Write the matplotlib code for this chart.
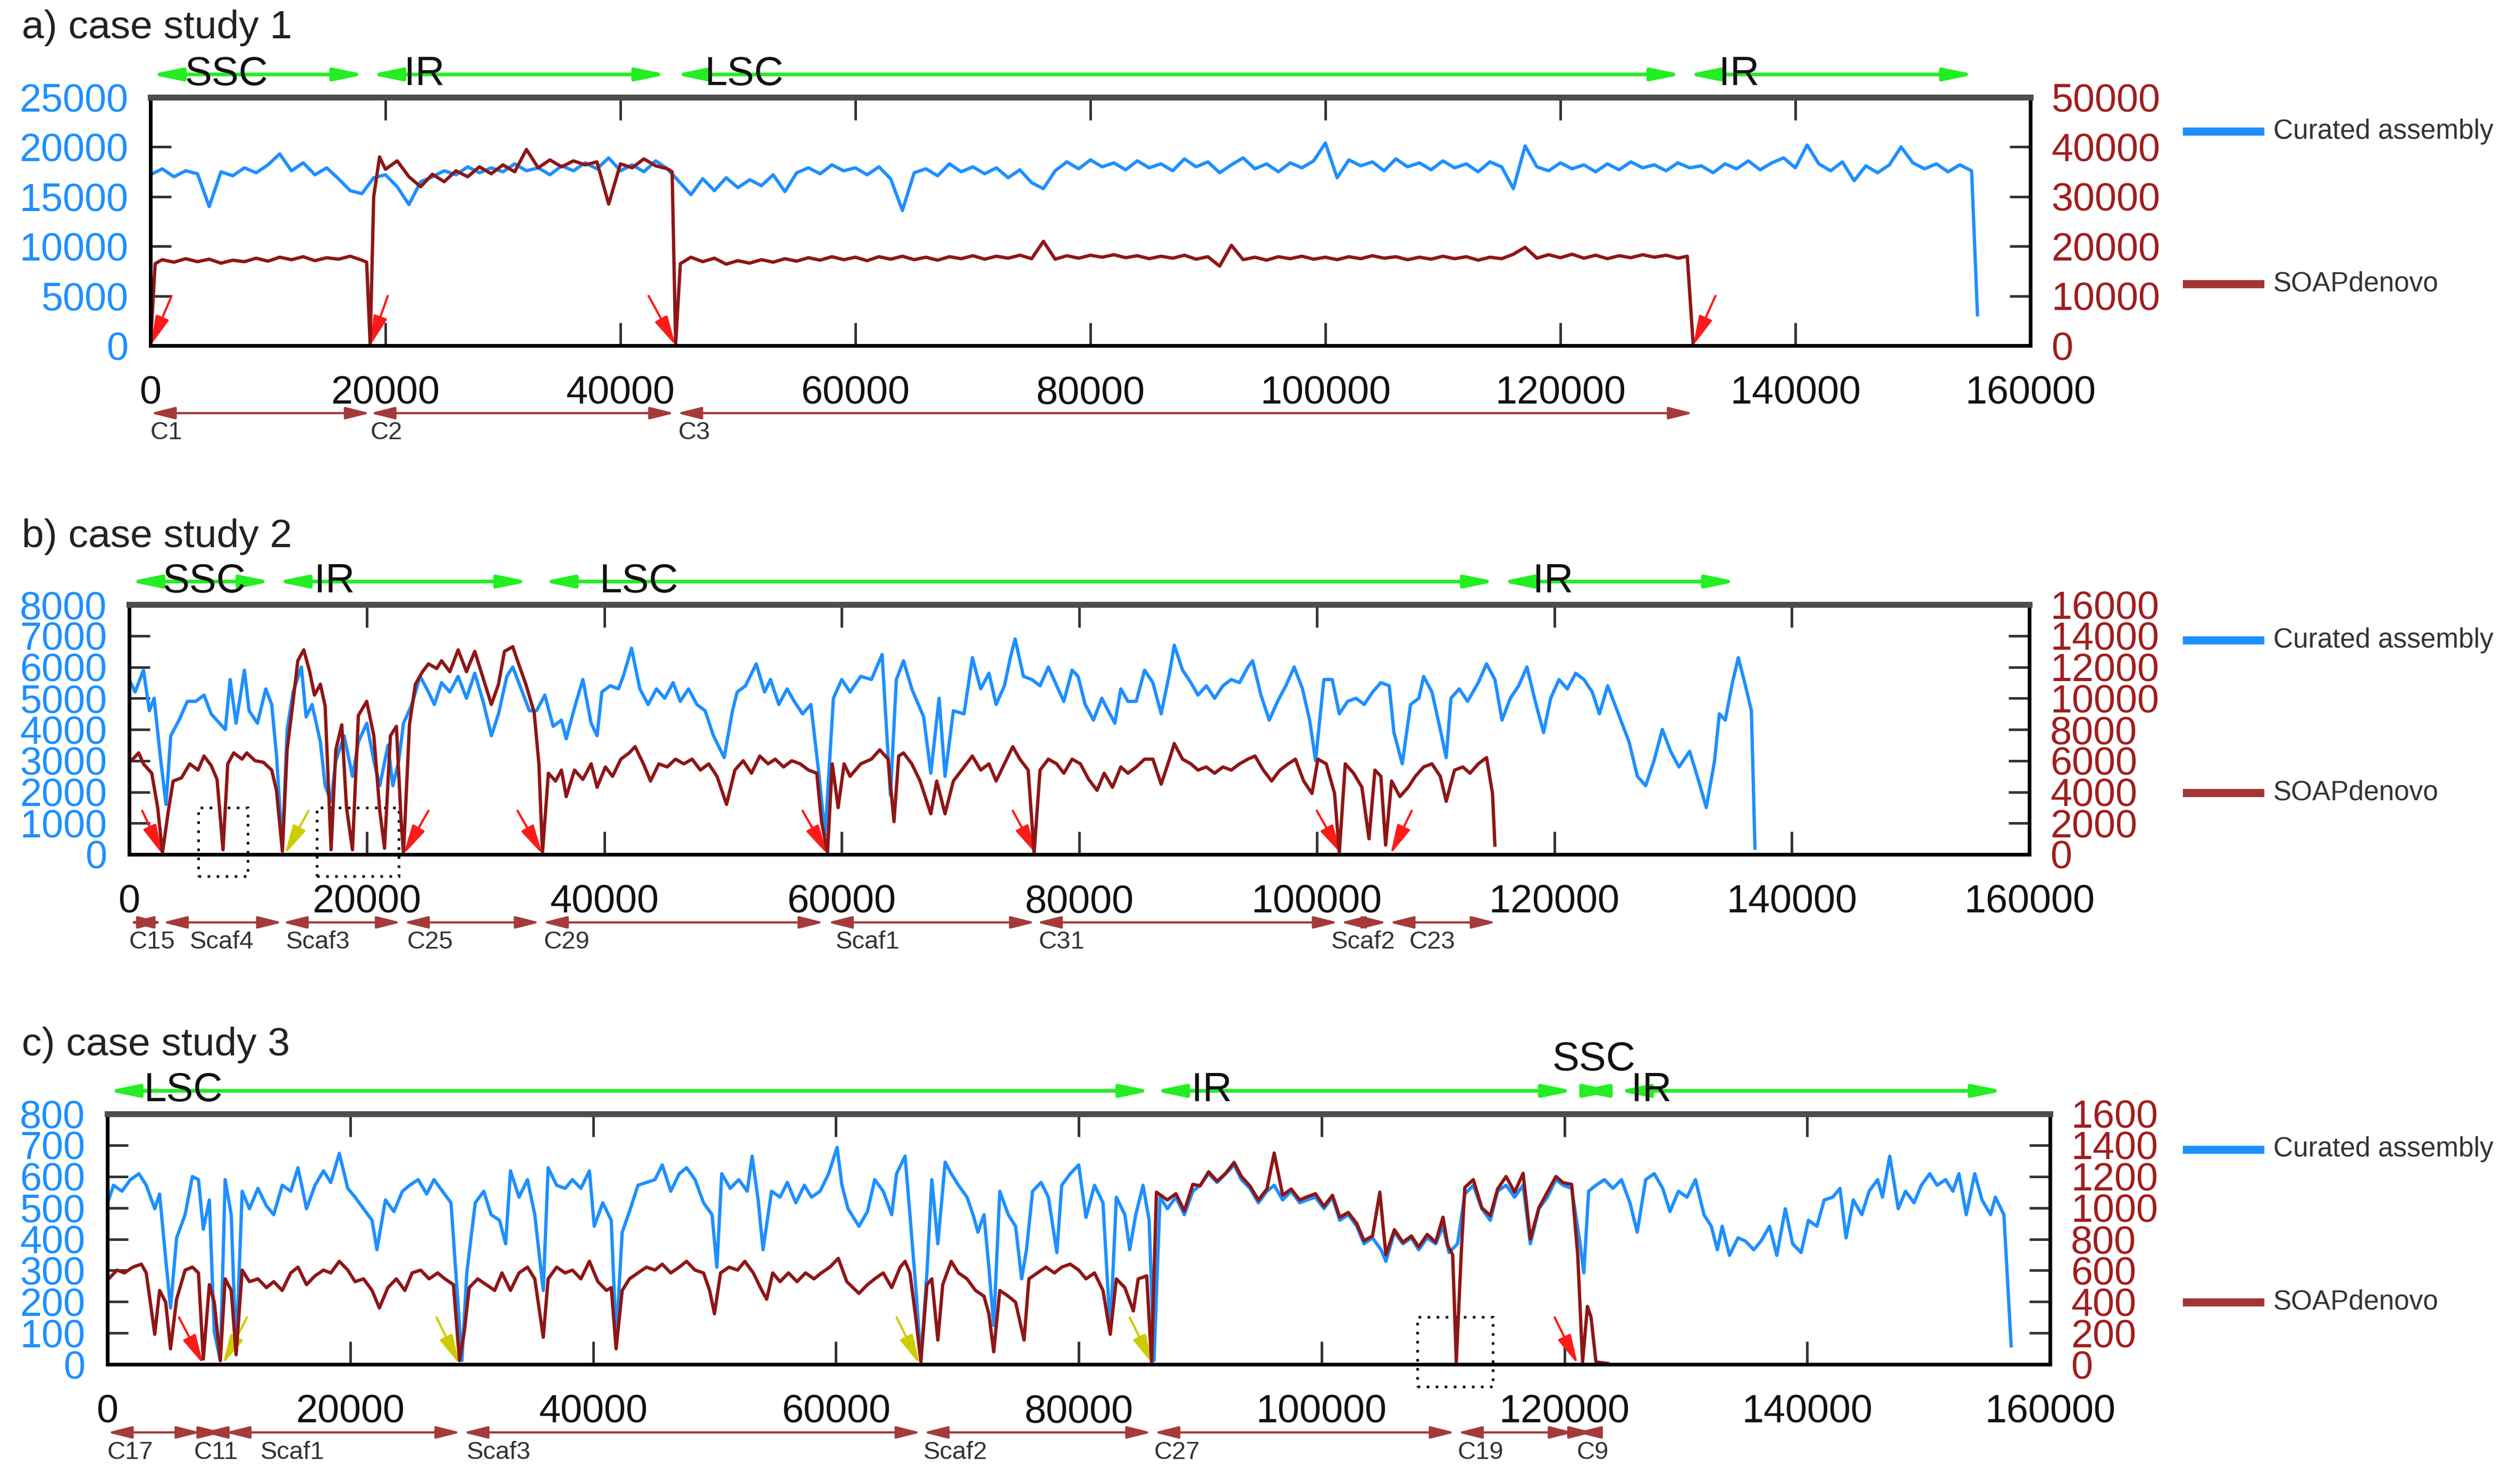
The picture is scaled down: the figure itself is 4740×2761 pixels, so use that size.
import matplotlib
matplotlib.use("Agg")
import matplotlib.pyplot as plt
from matplotlib.patches import FancyArrowPatch, Rectangle
from matplotlib.lines import Line2D
from matplotlib.transforms import blended_transform_factory
import numpy as np

plt.rcParams['font.family'] = ['Liberation Sans', 'DejaVu Sans']

W, H = 4740, 2761
BLUE = '#1e8fff'
RED = '#8e1616'
RED_LABEL = '#a01e1e'
GREEN = '#22ee22'
CONTIG = '#a53a3a'
ARROW_RED = '#ff1a1a'
ARROW_YEL = '#cccc00'

XTICKS = list(range(0, 160001, 20000))

# ---------------- case study 1 ----------------
# curated assembly coverage (thousands), 1 kb bins from 0 to 155 kb
a_curated = [
    17.2, 17.8, 17.0, 17.6, 17.3, 14.0, 17.5, 17.1, 17.9, 17.4,
    18.2, 19.3, 17.6, 18.4, 17.2, 17.9, 16.8, 15.6, 15.3, 16.9,
    17.2, 16.0, 14.2, 16.5, 17.0, 17.6, 17.2, 18.0, 17.4, 17.9,
    17.5, 18.3, 17.6, 17.9, 17.2, 18.1, 17.6, 18.4, 17.8, 18.9,
    17.6, 18.2, 17.5, 18.6, 17.8, 16.5, 15.2, 16.8, 15.6, 16.9,
    15.9, 16.7, 16.1, 17.2, 15.5, 17.4, 17.9, 17.3, 18.2, 17.6,
    17.9, 17.2, 18.0, 16.8, 13.6, 17.4, 17.8, 17.1, 18.3, 17.5,
    18.0, 17.3, 17.9, 16.9, 17.7, 16.4, 15.8, 17.6, 18.5, 17.8,
    18.7, 18.0, 18.4, 17.7, 18.6, 17.9, 18.3, 17.6, 18.8, 18.0,
    18.5, 17.4, 18.2, 18.9, 17.8, 18.3, 17.5, 18.4, 17.9, 18.6,
    20.4, 16.9, 18.7, 18.1, 18.5, 17.6, 18.8, 18.0, 18.4, 17.7,
    18.6, 17.9, 18.3, 17.5, 18.5, 18.0, 15.8, 20.1, 18.0, 17.6,
    18.4, 17.8, 18.2, 17.5, 18.3, 17.7, 18.5, 17.9, 18.2, 17.6,
    18.4, 17.9, 18.1, 17.4, 18.3, 17.8, 18.6, 17.7, 18.4, 18.9,
    17.9, 20.2, 18.3, 17.6, 18.5, 16.6, 18.1, 17.4, 18.2, 20.0,
    18.4, 17.8, 18.3, 17.5, 18.2, 17.6,
]
a_curated_end = (155.5, 3.1)

# SOAPdenovo coverage (kb, thousands on right axis)
a_soap = [
    (0, 0), (0.4, 16.5), (1, 17.3), (2, 16.8), (3, 17.5), (4, 16.9), (5, 17.4),
    (6, 16.6), (7, 17.2), (8, 16.9), (9, 17.6), (10, 17.0), (11, 17.8), (12, 17.3),
    (13, 17.9), (14, 17.1), (15, 17.7), (16, 17.4), (17, 18.0), (18, 17.2),
    (18.4, 16.8), (18.7, 0.3), (19.0, 30.0), (19.5, 38.0), (20, 35.5), (21, 37.2),
    (22, 34.0), (23, 32.0), (24, 34.5), (25, 33.0), (26, 35.2), (27, 34.0),
    (28, 36.0), (29, 34.6), (30, 36.4), (31, 35.0), (32, 39.5), (33, 35.8),
    (34, 37.4), (35, 36.0), (36, 37.2), (37, 36.4), (38, 37.0), (39, 28.5),
    (40, 36.6), (41, 35.8), (42, 37.6), (43, 36.2), (44, 35.6), (44.4, 35.0),
    (44.7, 0.3), (45.1, 16.5), (46, 17.8), (47, 16.9), (48, 17.6), (49, 16.4),
    (50, 17.1), (51, 16.6), (52, 17.3), (53, 16.8), (54, 17.5), (55, 17.0),
    (56, 17.7), (57, 17.2), (58, 17.9), (59, 17.3), (60, 17.8), (61, 17.1),
    (62, 17.9), (63, 17.4), (64, 18.0), (65, 17.3), (66, 17.8), (67, 17.2),
    (68, 17.9), (69, 17.5), (70, 18.1), (71, 17.4), (72, 18.0), (73, 17.6),
    (74, 18.2), (75, 17.5), (76, 21.0), (77, 17.4), (78, 18.1), (79, 17.6),
    (80, 18.2), (81, 17.8), (82, 18.3), (83, 17.7), (84, 18.1), (85, 17.5),
    (86, 18.0), (87, 17.6), (88, 18.2), (89, 17.4), (90, 17.9), (91, 16.0),
    (92, 20.2), (93, 17.3), (94, 17.8), (95, 17.2), (96, 17.9), (97, 17.5),
    (98, 18.0), (99, 17.4), (100, 17.8), (101, 17.3), (102, 17.9), (103, 17.5),
    (104, 18.1), (105, 17.6), (106, 17.9), (107, 17.3), (108, 17.8), (109, 17.4),
    (110, 18.0), (111, 17.5), (112, 17.9), (113, 17.2), (114, 17.8), (115, 17.5),
    (116, 18.4), (117, 19.8), (118, 17.6), (119, 18.3), (120, 17.7), (121, 18.4),
    (122, 17.6), (123, 18.2), (124, 17.5), (125, 18.1), (126, 17.7), (127, 18.3),
    (128, 17.8), (129, 18.2), (130, 17.6), (130.8, 18.0), (131.3, 0.3),
]
a_regions = [('SSC', 0, 18.3, 2.9), ('IR', 18.7, 44.0, 21.6),
             ('LSC', 44.6, 130.4, 47.2), ('IR', 130.8, 155.3, 133.5)]
a_contigs = [('C1', 0, 18.7, 0), ('C2', 18.7, 44.6, 18.7), ('C3', 44.8, 131.3, 44.9)]
a_breaks = [(1.8, 0, 'r'), (20.2, 18.7, 'r'), (42.4, 44.7, 'r'), (133.2, 131.3, 'r')]

# ---------------- case study 2 ----------------
b_curated = [
    (0, 5.6), (0.5, 5.2), (1.2, 5.9), (1.7, 4.6), (2.1, 5.0), (2.6, 3.2), (3.1, 1.6),
    (3.5, 3.8), (4.2, 4.3), (4.9, 4.9), (5.6, 4.9), (6.3, 5.1), (6.9, 4.5), (7.6, 4.2),
    (8.1, 4.0), (8.5, 5.6), (9.0, 4.2), (9.7, 5.9), (10.1, 4.6), (10.8, 4.2), (11.5, 5.3),
    (12.0, 4.8), (12.4, 3.2), (12.9, 0.2), (13.3, 4.0), (13.8, 5.2), (14.5, 6.0),
    (14.9, 4.4), (15.4, 4.8), (16.1, 3.6), (16.5, 2.2), (17.0, 1.7), (17.4, 3.0),
    (18.1, 3.8), (18.8, 2.5), (19.3, 3.6), (20.0, 4.2), (20.6, 3.0), (21.1, 2.2),
    (21.8, 3.5), (22.2, 2.2), (22.7, 3.0), (23.1, 4.2), (23.8, 4.8), (24.5, 5.7),
    (25.2, 5.2), (25.7, 4.8), (26.3, 5.5), (27.0, 5.2), (27.7, 5.7), (28.4, 5.0),
    (29.1, 5.8), (29.8, 4.9), (30.5, 3.8), (31.1, 4.5), (31.8, 5.7), (32.3, 6.0),
    (33.0, 5.3), (33.7, 4.6), (34.3, 4.6), (35.0, 5.1), (35.7, 4.1), (36.4, 4.3),
    (36.8, 3.7), (37.5, 4.7), (38.2, 5.6), (38.9, 4.2), (39.4, 3.8), (39.8, 5.2),
    (40.5, 5.4), (41.2, 5.3), (41.6, 5.7), (42.3, 6.6), (43.0, 5.3), (43.7, 4.8),
    (44.4, 5.3), (45.1, 5.0), (45.8, 5.5), (46.4, 4.9), (47.1, 5.3), (47.8, 4.8),
    (48.5, 4.6), (49.2, 3.8), (50.1, 3.1), (50.8, 4.6), (51.2, 5.2), (51.9, 5.4),
    (52.8, 6.1), (53.5, 5.2), (54.0, 5.6), (54.7, 4.8), (55.4, 5.3), (56.0, 4.9),
    (56.7, 4.5), (57.4, 4.8), (58.1, 2.5), (58.6, 0.6), (59.3, 5.0), (60.0, 5.6),
    (60.7, 5.2), (61.6, 5.7), (62.5, 5.6), (63.4, 6.4), (64.1, 1.9), (64.6, 5.6),
    (65.2, 6.2), (65.9, 5.3), (66.9, 4.4), (67.5, 2.6), (68.2, 5.0), (68.7, 2.5),
    (69.4, 4.6), (70.3, 4.5), (71.0, 6.3), (71.7, 5.3), (72.4, 5.8), (73.0, 4.8),
    (73.7, 5.4), (74.2, 6.3), (74.6, 6.9), (75.3, 5.7), (76.0, 5.6), (76.7, 5.4),
    (77.4, 6.0), (78.1, 5.4), (78.7, 4.9), (79.4, 5.9), (79.9, 5.7), (80.5, 4.8),
    (81.2, 4.3), (81.9, 5.0), (82.3, 4.7), (83.0, 4.2), (83.5, 5.3), (84.1, 4.9),
    (84.8, 4.9), (85.5, 5.9), (86.2, 5.5), (86.9, 4.5), (87.6, 5.8), (88.0, 6.7),
    (88.7, 5.9), (89.4, 5.5), (90.0, 5.1), (90.7, 5.4), (91.4, 5.0), (92.1, 5.4),
    (92.8, 5.6), (93.5, 5.5), (94.2, 6.0), (94.6, 6.2), (95.3, 5.1), (96.0, 4.3),
    (96.7, 4.9), (97.4, 5.4), (98.1, 6.0), (98.8, 5.3), (99.4, 4.3), (99.9, 3.0),
    (100.6, 5.6), (101.3, 5.6), (101.9, 4.5), (102.6, 4.9), (103.3, 5.0), (104.0, 4.8),
    (104.7, 5.2), (105.4, 5.5), (106.1, 5.4), (106.5, 3.9), (107.2, 2.9), (107.9, 4.8),
    (108.6, 5.0), (109.0, 5.7), (109.7, 5.2), (110.4, 4.0), (110.9, 3.1), (111.3, 5.0),
    (112.0, 5.3), (112.7, 4.9), (113.6, 5.5), (114.3, 6.1), (115.0, 5.6), (115.6, 4.3),
    (116.3, 5.0), (117.0, 5.4), (117.7, 6.0), (118.4, 4.9), (119.1, 3.9), (119.7, 5.0),
    (120.4, 5.6), (121.1, 5.3), (121.8, 5.8), (122.5, 5.6), (123.2, 5.2), (123.8, 4.5),
    (124.5, 5.4), (125.2, 4.7), (125.9, 4.0), (126.3, 3.6), (127.0, 2.5), (127.7, 2.2),
    (128.4, 3.0), (129.1, 4.0), (129.8, 3.3), (130.5, 2.8), (131.4, 3.3), (132.2, 2.3),
    (132.8, 1.5), (133.5, 3.0), (133.9, 4.5), (134.4, 4.3), (135.0, 5.5), (135.5, 6.3),
    (136.1, 5.4), (136.6, 4.6), (136.9, 0.2),
]
b_soap = [
    (0.3, 6.1), (0.8, 6.5), (1.2, 5.8), (1.9, 5.2), (2.4, 3.0), (2.8, 0.1), (3.3, 2.8),
    (3.7, 4.7), (4.4, 4.9), (5.1, 5.8), (5.8, 5.4), (6.3, 6.3), (6.9, 5.7), (7.4, 4.8),
    (7.9, 0.3), (8.3, 5.8), (8.8, 6.5), (9.5, 6.1), (9.9, 6.5), (10.6, 6.0), (11.3, 5.9),
    (12.0, 5.4), (12.4, 4.1), (12.9, 0.2), (13.3, 6.7), (13.8, 9.8), (14.2, 12.4),
    (14.7, 13.1), (15.2, 11.7), (15.6, 10.2), (16.1, 10.9), (16.5, 9.5), (17.0, 0.3),
    (17.4, 6.7), (17.9, 8.3), (18.3, 3.0), (18.8, 0.3), (19.3, 8.9), (20.0, 9.8),
    (20.6, 7.6), (21.1, 2.8), (21.5, 0.4), (22.0, 7.6), (22.5, 8.2), (22.9, 2.1),
    (23.1, 0.1), (23.6, 8.3), (24.1, 10.9), (24.7, 11.7), (25.2, 12.2), (25.9, 11.9),
    (26.3, 12.4), (27.0, 11.7), (27.7, 13.1), (28.4, 11.7), (29.1, 13.0), (29.8, 11.3),
    (30.5, 9.6), (31.1, 10.9), (31.6, 13.0), (32.3, 13.3), (32.7, 12.4), (33.4, 10.9),
    (34.1, 9.1), (34.5, 5.8), (34.8, 0.1), (35.3, 5.2), (35.9, 4.7), (36.4, 5.4),
    (36.8, 3.7), (37.5, 5.4), (38.2, 4.8), (38.9, 5.8), (39.4, 4.3), (40.1, 5.6),
    (40.7, 5.0), (41.4, 6.1), (42.1, 6.5), (42.6, 6.9), (43.3, 5.8), (43.9, 4.7),
    (44.6, 5.8), (45.3, 5.6), (46.0, 6.1), (46.7, 5.8), (47.4, 6.1), (48.1, 5.4),
    (48.8, 5.8), (49.5, 5.0), (50.3, 3.2), (51.0, 5.4), (51.7, 6.0), (52.4, 5.2),
    (53.1, 6.3), (53.8, 5.8), (54.4, 6.1), (55.1, 5.6), (55.8, 6.0), (56.5, 5.8),
    (57.2, 5.4), (57.9, 5.2), (58.3, 2.1), (58.8, 0.1), (59.2, 5.8), (59.7, 3.0),
    (60.2, 5.8), (60.7, 5.0), (61.6, 5.8), (62.5, 6.1), (63.2, 6.7), (63.9, 6.1),
    (64.4, 2.1), (64.8, 6.3), (65.2, 6.5), (65.9, 5.8), (66.6, 4.7), (67.5, 2.6),
    (68.0, 4.7), (68.7, 2.6), (69.4, 4.7), (70.3, 5.6), (71.0, 6.3), (71.7, 5.4),
    (72.4, 5.8), (73.0, 4.7), (73.7, 5.8), (74.4, 6.9), (75.0, 6.1), (75.7, 5.4),
    (76.2, 0.1), (76.7, 5.4), (77.4, 6.1), (78.1, 5.8), (78.7, 5.2), (79.4, 6.1),
    (80.1, 5.8), (80.8, 4.8), (81.5, 4.1), (82.1, 5.2), (82.8, 4.3), (83.5, 5.6),
    (84.1, 5.2), (84.8, 5.6), (85.5, 6.1), (86.2, 6.1), (86.9, 4.5), (87.6, 6.1),
    (88.0, 7.1), (88.7, 6.1), (89.4, 5.8), (90.0, 5.4), (90.7, 5.6), (91.4, 5.2),
    (92.1, 5.6), (92.8, 5.4), (93.5, 5.8), (94.2, 6.1), (94.8, 6.3), (95.5, 5.4),
    (96.2, 4.7), (96.9, 5.4), (97.6, 5.8), (98.2, 6.1), (98.9, 4.7), (99.6, 3.9),
    (100.1, 6.1), (100.8, 5.8), (101.5, 3.9), (101.9, 0.1), (102.4, 5.8), (103.1, 5.2),
    (103.8, 4.3), (104.4, 1.0), (104.9, 5.4), (105.4, 5.0), (105.8, 0.6), (106.3, 4.7),
    (107.0, 3.7), (107.7, 4.3), (108.3, 5.0), (109.0, 5.6), (109.7, 5.8), (110.4, 5.0),
    (110.9, 3.4), (111.6, 5.4), (112.3, 5.6), (112.9, 5.2), (113.6, 5.8), (114.3, 6.2),
    (114.8, 3.9), (115.0, 0.6),
]
b_regions = [('SSC', 0, 12.0, 2.8), ('IR', 12.4, 33.7, 15.6),
             ('LSC', 34.8, 115.1, 39.6), ('IR', 115.5, 135.4, 118.2)]
b_contigs = [('C15', 0, 2.8, 0), ('Scaf4', 2.8, 12.9, 5.1), ('Scaf3', 12.9, 22.9, 13.2),
             ('C25', 23.1, 34.6, 23.4), ('C29', 34.8, 58.5, 34.9), ('Scaf1', 58.8, 76.3, 59.5),
             ('C31', 76.4, 101.8, 76.6), ('Scaf2', 102.0, 105.9, 101.2), ('C23', 106.1, 115.1, 107.8)]
b_breaks = [(1.1, 2.8, 'r'), (15.1, 13.1, 'y'), (25.2, 23.1, 'r'), (32.7, 34.8, 'r'),
            (56.7, 58.8, 'r'), (74.4, 76.4, 'r'), (100.0, 102.1, 'r'), (108.0, 106.2, 'r')]
b_boxes = [(5.8, 10.0, -0.7, 1.5), (15.8, 22.7, -0.7, 1.5)]

# ---------------- case study 3 ----------------
c_curated = [
    (0.1, 525), (0.5, 572), (1.2, 553), (1.9, 590), (2.6, 609), (3.2, 572), (3.9, 497),
    (4.3, 544), (4.8, 338), (5.2, 180), (5.7, 404), (6.4, 478), (7.0, 600), (7.5, 590),
    (7.9, 432), (8.4, 525), (8.8, 105), (9.3, 12), (9.7, 590), (10.2, 478), (10.6, 31),
    (11.1, 553), (11.7, 497), (12.4, 562), (13.1, 506), (13.7, 478), (14.4, 572),
    (15.1, 553), (15.7, 628), (16.4, 497), (17.1, 572), (17.8, 618), (18.4, 581),
    (19.1, 674), (19.8, 562), (20.4, 534), (21.1, 497), (21.8, 460), (22.2, 366),
    (22.9, 525), (23.6, 488), (24.3, 553), (24.9, 572), (25.6, 590), (26.3, 544),
    (26.9, 590), (27.6, 553), (28.3, 516), (28.7, 292), (29.2, 12), (29.6, 292),
    (30.3, 516), (31.0, 553), (31.6, 478), (32.3, 460), (32.8, 385), (33.2, 618),
    (33.9, 534), (34.6, 590), (35.2, 478), (35.9, 236), (36.3, 628), (37.0, 572),
    (37.7, 562), (38.3, 590), (39.0, 562), (39.7, 618), (40.1, 441), (40.8, 516),
    (41.5, 460), (41.9, 77), (42.4, 422), (43.0, 488), (43.7, 572), (44.4, 581),
    (45.1, 590), (45.7, 637), (46.4, 553), (47.1, 609), (47.7, 628), (48.4, 590),
    (49.1, 516), (49.8, 478), (50.2, 310), (50.6, 609), (51.3, 562), (52.0, 590),
    (52.7, 553), (53.1, 665), (53.6, 525), (54.0, 366), (54.7, 553), (55.4, 534),
    (56.0, 581), (56.7, 516), (57.4, 572), (58.0, 534), (58.7, 553), (59.4, 609),
    (60.1, 693), (60.5, 572), (61.0, 497), (61.9, 441), (62.6, 488), (63.2, 590),
    (63.9, 553), (64.6, 478), (65.0, 609), (65.7, 665), (66.1, 478), (66.6, 236),
    (67.0, 12), (67.5, 292), (67.9, 590), (68.4, 385), (69.0, 646), (69.5, 609),
    (70.1, 572), (70.8, 534), (71.3, 478), (71.7, 422), (72.2, 478), (72.6, 310),
    (73.0, 124), (73.5, 553), (74.2, 478), (74.8, 441), (75.3, 273), (75.7, 366),
    (76.2, 553), (76.9, 581), (77.5, 534), (78.2, 357), (78.6, 572), (79.3, 609),
    (80.0, 637), (80.6, 469), (81.3, 572), (82.0, 516), (82.6, 105), (83.1, 534),
    (83.8, 478), (84.2, 366), (84.7, 478), (85.3, 572), (85.8, 460), (86.2, 12),
    (86.7, 534), (87.3, 497), (88.0, 534), (88.7, 478), (89.4, 553), (90.0, 572),
    (90.7, 609), (91.4, 581), (92.1, 609), (92.8, 637), (93.4, 590), (94.1, 562),
    (94.8, 516), (95.5, 553), (96.1, 572), (96.8, 525), (97.5, 553), (98.2, 516),
    (98.8, 525), (99.5, 534), (100.2, 497), (100.9, 534), (101.5, 460), (102.2, 478),
    (102.9, 441), (103.5, 385), (104.2, 404), (104.9, 366), (105.3, 329), (106.0, 422),
    (106.7, 385), (107.4, 404), (108.0, 366), (108.7, 404), (109.4, 385), (110.0, 441),
    (110.5, 357), (111.2, 385), (111.8, 544), (112.5, 572), (113.2, 497), (113.9, 460),
    (114.5, 553), (115.2, 572), (115.9, 534), (116.6, 572), (117.2, 385), (117.9, 497),
    (118.6, 534), (119.3, 590), (119.9, 572), (120.6, 562), (121.3, 385), (121.6, 292),
    (122.0, 553), (122.6, 572), (123.3, 590), (124.0, 562), (124.7, 590), (125.4, 516),
    (126.0, 422), (126.7, 590), (127.4, 609), (128.1, 562), (128.7, 488), (129.4, 553),
    (130.1, 534), (130.8, 590), (131.5, 478), (132.1, 441), (132.6, 366), (133.0, 441),
    (133.6, 348), (134.3, 404), (134.9, 394), (135.6, 366), (136.2, 394), (136.9, 441),
    (137.5, 348), (138.2, 497), (138.8, 385), (139.5, 357), (140.1, 460), (140.8, 441),
    (141.4, 525), (142.1, 534), (142.7, 562), (143.2, 404), (143.8, 525), (144.5, 478),
    (145.1, 553), (145.8, 590), (146.2, 534), (146.8, 665), (147.5, 497), (148.1, 553),
    (148.8, 516), (149.4, 572), (150.1, 609), (150.7, 572), (151.4, 590), (152.0, 553),
    (152.5, 609), (153.1, 478), (153.8, 609), (154.4, 525), (155.1, 478), (155.5, 534),
    (156.2, 478), (156.8, 59),
]
c_soap = [
    (0.1, 546), (0.8, 602), (1.4, 584), (2.1, 621), (2.8, 640), (3.2, 584), (3.9, 192),
    (4.3, 472), (4.8, 397), (5.2, 99), (5.7, 416), (6.4, 602), (7.0, 621), (7.5, 584),
    (7.9, 34), (8.4, 509), (8.8, 397), (9.3, 24), (9.7, 546), (10.2, 472), (10.6, 62),
    (11.1, 602), (11.7, 528), (12.4, 546), (13.1, 490), (13.7, 528), (14.4, 472),
    (15.1, 584), (15.7, 621), (16.4, 509), (17.1, 565), (17.8, 602), (18.4, 584),
    (19.1, 658), (19.8, 602), (20.4, 528), (21.1, 546), (21.8, 472), (22.4, 360),
    (23.1, 490), (23.8, 546), (24.5, 472), (25.1, 584), (25.8, 602), (26.5, 546),
    (27.2, 584), (27.8, 546), (28.5, 509), (29.0, 24), (29.4, 211), (29.8, 490),
    (30.5, 546), (31.2, 509), (31.9, 472), (32.5, 584), (33.2, 472), (33.9, 584),
    (34.6, 621), (35.2, 546), (35.9, 173), (36.3, 546), (37.0, 621), (37.7, 584),
    (38.3, 602), (39.0, 546), (39.7, 658), (40.4, 528), (41.1, 472), (41.5, 490),
    (41.9, 99), (42.4, 472), (43.0, 546), (43.7, 584), (44.4, 621), (45.1, 602),
    (45.7, 640), (46.4, 584), (47.1, 621), (47.7, 658), (48.4, 602), (49.1, 584),
    (49.6, 472), (50.0, 323), (50.5, 584), (51.2, 621), (51.9, 602), (52.5, 658),
    (53.2, 584), (53.9, 472), (54.3, 416), (54.8, 584), (55.4, 528), (56.1, 584),
    (56.8, 528), (57.5, 584), (58.2, 546), (58.8, 584), (59.5, 621), (60.2, 677),
    (60.9, 528), (61.9, 453), (62.6, 509), (63.2, 546), (63.9, 584), (64.6, 490),
    (65.3, 621), (65.7, 658), (66.1, 584), (66.6, 285), (67.0, 15), (67.5, 509),
    (67.9, 546), (68.4, 155), (68.8, 509), (69.5, 658), (70.1, 584), (70.8, 546),
    (71.5, 472), (72.2, 435), (72.6, 323), (73.0, 80), (73.5, 472), (74.2, 435),
    (74.8, 397), (75.5, 155), (75.9, 546), (76.6, 584), (77.3, 621), (78.0, 584),
    (78.6, 621), (79.3, 640), (80.0, 602), (80.6, 546), (81.3, 584), (82.0, 472),
    (82.6, 192), (83.1, 546), (83.8, 490), (84.5, 341), (84.9, 546), (85.6, 565),
    (86.0, 15), (86.4, 1100), (87.3, 1050), (88.0, 1090), (88.7, 980), (89.4, 1150),
    (90.0, 1140), (90.7, 1230), (91.4, 1170), (92.1, 1220), (92.8, 1290), (93.4, 1200),
    (94.1, 1140), (94.8, 1050), (95.5, 1120), (96.1, 1350), (96.8, 1080), (97.5, 1120),
    (98.2, 1050), (98.8, 1070), (99.5, 1090), (100.2, 1010), (100.9, 1080), (101.5, 940),
    (102.2, 970), (102.9, 900), (103.5, 790), (104.2, 820), (104.8, 1100), (105.3, 700),
    (106.0, 860), (106.7, 780), (107.4, 820), (108.0, 750), (108.7, 830), (109.4, 780),
    (110.0, 940), (110.4, 760), (110.8, 700), (111.1, 15), (111.5, 700), (111.8, 1130),
    (112.5, 1180), (113.2, 1000), (113.9, 950), (114.5, 1120), (115.2, 1200),
    (115.9, 1100), (116.6, 1220), (117.2, 800), (117.9, 1000), (118.6, 1100),
    (119.3, 1200), (119.9, 1160), (120.6, 1150), (121.1, 700), (121.5, 15), (121.9, 370),
    (122.2, 300), (122.6, 15), (123.6, 5),
]
c_regions = [('LSC', 0, 86.0, 3.0), ('IR', 86.2, 120.8, 89.3),
             ('SSC', 121.0, 124.2, 119.0), ('IR', 124.4, 156.2, 125.5)]
c_contigs = [('C17', 0, 7.7, 0), ('C11', 7.9, 9.5, 7.1), ('Scaf1', 9.7, 29.1, 12.6),
             ('Scaf3', 29.3, 67.0, 29.6), ('Scaf2', 67.2, 86.0, 67.2), ('C27', 86.2, 111.0, 86.2),
             ('C19', 111.2, 120.8, 111.2), ('C9', 121.0, 122.4, 121.0)]
c_breaks = [(5.9, 7.9, 'r'), (11.5, 9.5, 'y'), (27.1, 29.0, 'y'), (65.0, 66.9, 'y'),
            (84.2, 86.1, 'y'), (119.2, 121.1, 'r')]
c_boxes = [(107.9, 114.1, -72, 152)]


def px_rect(l, t, r, b):
    return [l / W, 1 - b / H, (r - l) / W, (b - t) / H]


def draw_panel(fig, rect, title, title_base, left_max, left_step, scale,
               curated_x, curated_y, soap, regions, contigs, breaks, boxes,
               break_top, legend_y, raised_label=None):
    ax = fig.add_axes(rect)
    ax2 = ax.twinx()
    kb = 1000

    ax.plot(np.array(curated_x) * kb, np.array(curated_y) * scale, color=BLUE, lw=4.5,
            solid_joinstyle='round')
    sx, sy = zip(*soap)
    ax2.plot(np.array(sx) * kb, np.array(sy) * scale, color=RED, lw=4.5,
             solid_joinstyle='round')

    ax.set_xlim(0, 160000)
    ax.set_ylim(0, left_max)
    ax2.set_ylim(0, 2 * left_max)
    lt = np.arange(0, left_max + 1, left_step)
    ax.set_yticks(lt)
    ax.set_yticklabels([str(int(v)) for v in lt])
    ax2.set_yticks(2 * lt)
    ax2.set_yticklabels([str(int(v)) for v in 2 * lt])
    ax.set_xticks(XTICKS)
    ax.set_xticklabels([str(v) for v in XTICKS])

    ax.tick_params(axis='x', direction='in', top=True, bottom=True, length=31, width=3.5,
                   color='#333333', pad=40, labelsize=53, labelcolor='#111111')
    ax.tick_params(axis='y', direction='in', left=True, right=False, length=28, width=3.5,
                   color='#333333', pad=30, labelsize=53, labelcolor=BLUE)
    ax2.tick_params(axis='y', direction='in', right=True, length=28, width=3.5,
                    color='#333333', pad=28, labelsize=53, labelcolor=RED_LABEL)
    for s in ax.spines.values():
        s.set_visible(False)
    for name, s in ax2.spines.items():
        s.set_color('#4d4d4d' if name == 'top' else 'black')
        s.set_linewidth(8 if name == 'top' else 5)

    bt = blended_transform_factory(ax.transData, ax.transAxes)

    # genome regions (green)
    for name, x0, x1, xl in regions:
        ax2.add_patch(FancyArrowPatch((x0 * kb, 1.092), (x1 * kb, 1.092), transform=bt,
                                      arrowstyle='<|-|>,head_length=34,head_width=7',
                                      mutation_scale=1, color=GREEN, lw=5,
                                      shrinkA=0, shrinkB=0, clip_on=False))
        yl = 1.05
        if name == raised_label:
            yl = 1.174
        ax2.text(xl * kb, yl, name, transform=bt, fontsize=55, ha='left',
                 va='baseline', color='#111111', clip_on=False)

    # assembled contigs (dark red)
    for name, x0, x1, xl in contigs:
        ax2.add_patch(FancyArrowPatch((x0 * kb, -0.272), (x1 * kb, -0.272), transform=bt,
                                      arrowstyle='<|-|>,head_length=28,head_width=7',
                                      mutation_scale=1, color=CONTIG, lw=3,
                                      shrinkA=0, shrinkB=0, clip_on=False))
        ax2.text(xl * kb, -0.305, name, transform=bt, fontsize=34, ha='left',
                 va='top', color='#333333', clip_on=False)

    # breakpoints
    for x0, x1, c in breaks:
        ax2.add_patch(FancyArrowPatch((x0 * kb, break_top), (x1 * kb, 0),
                                      transform=ax.transData,
                                      arrowstyle='-|>,head_length=34,head_width=8',
                                      mutation_scale=1,
                                      color=ARROW_RED if c == 'r' else ARROW_YEL, lw=3,
                                      shrinkA=0, shrinkB=0, clip_on=False))

    for x0, x1, y0, y1 in boxes:
        ax2.add_patch(Rectangle((x0 * kb, y0 * scale), (x1 - x0) * kb, (y1 - y0) * scale,
                                transform=ax.transData, fill=False, ec='black', lw=3.5,
                                ls=(0, (1, 2.5)), clip_on=False))

    fig.text(41 / W, 1 - title_base / H, title, fontsize=54, ha='left', va='baseline',
             color='#222222')

    # legend
    for (lbl, col), ly in zip([('Curated assembly', BLUE), ('SOAPdenovo', '#a33535')],
                              legend_y):
        fig.add_artist(Line2D([4113 / W, 4251 / W], [1 - ly / H, 1 - ly / H],
                              transform=fig.transFigure, color=col, lw=11))
        fig.text(4276 / W, 1 - ly / H, lbl, fontsize=37, ha='left', va='center',
                 color='#333333')
    return ax


fig = plt.figure(figsize=(W / 100, H / 100), dpi=100)

draw_panel(fig, px_rect(283, 183, 3819, 650), 'a) case study 1', 72, 25000, 5000, 1000,
           list(range(len(a_curated))) + [a_curated_end[0]], a_curated + [a_curated_end[1]],
           a_soap, a_regions, a_contigs, a_breaks, [], 5000, (247, 534))

bcx, bcy = zip(*b_curated)
draw_panel(fig, px_rect(243, 1137, 3817, 1607), 'b) case study 2', 1029, 8000, 1000, 1000,
           bcx, bcy, b_soap, b_regions, b_contigs, b_breaks, b_boxes, 1400, (1204, 1491))

ccx, ccy = zip(*c_curated)
draw_panel(fig, px_rect(202, 2095, 3856, 2566), 'c) case study 3', 1985, 800, 100, 1,
           ccx, ccy, c_soap, c_regions, c_contigs, c_breaks, c_boxes, 150, (2162, 2449),
           raised_label='SSC')

fig.savefig('out.png', dpi=100, facecolor='white')
